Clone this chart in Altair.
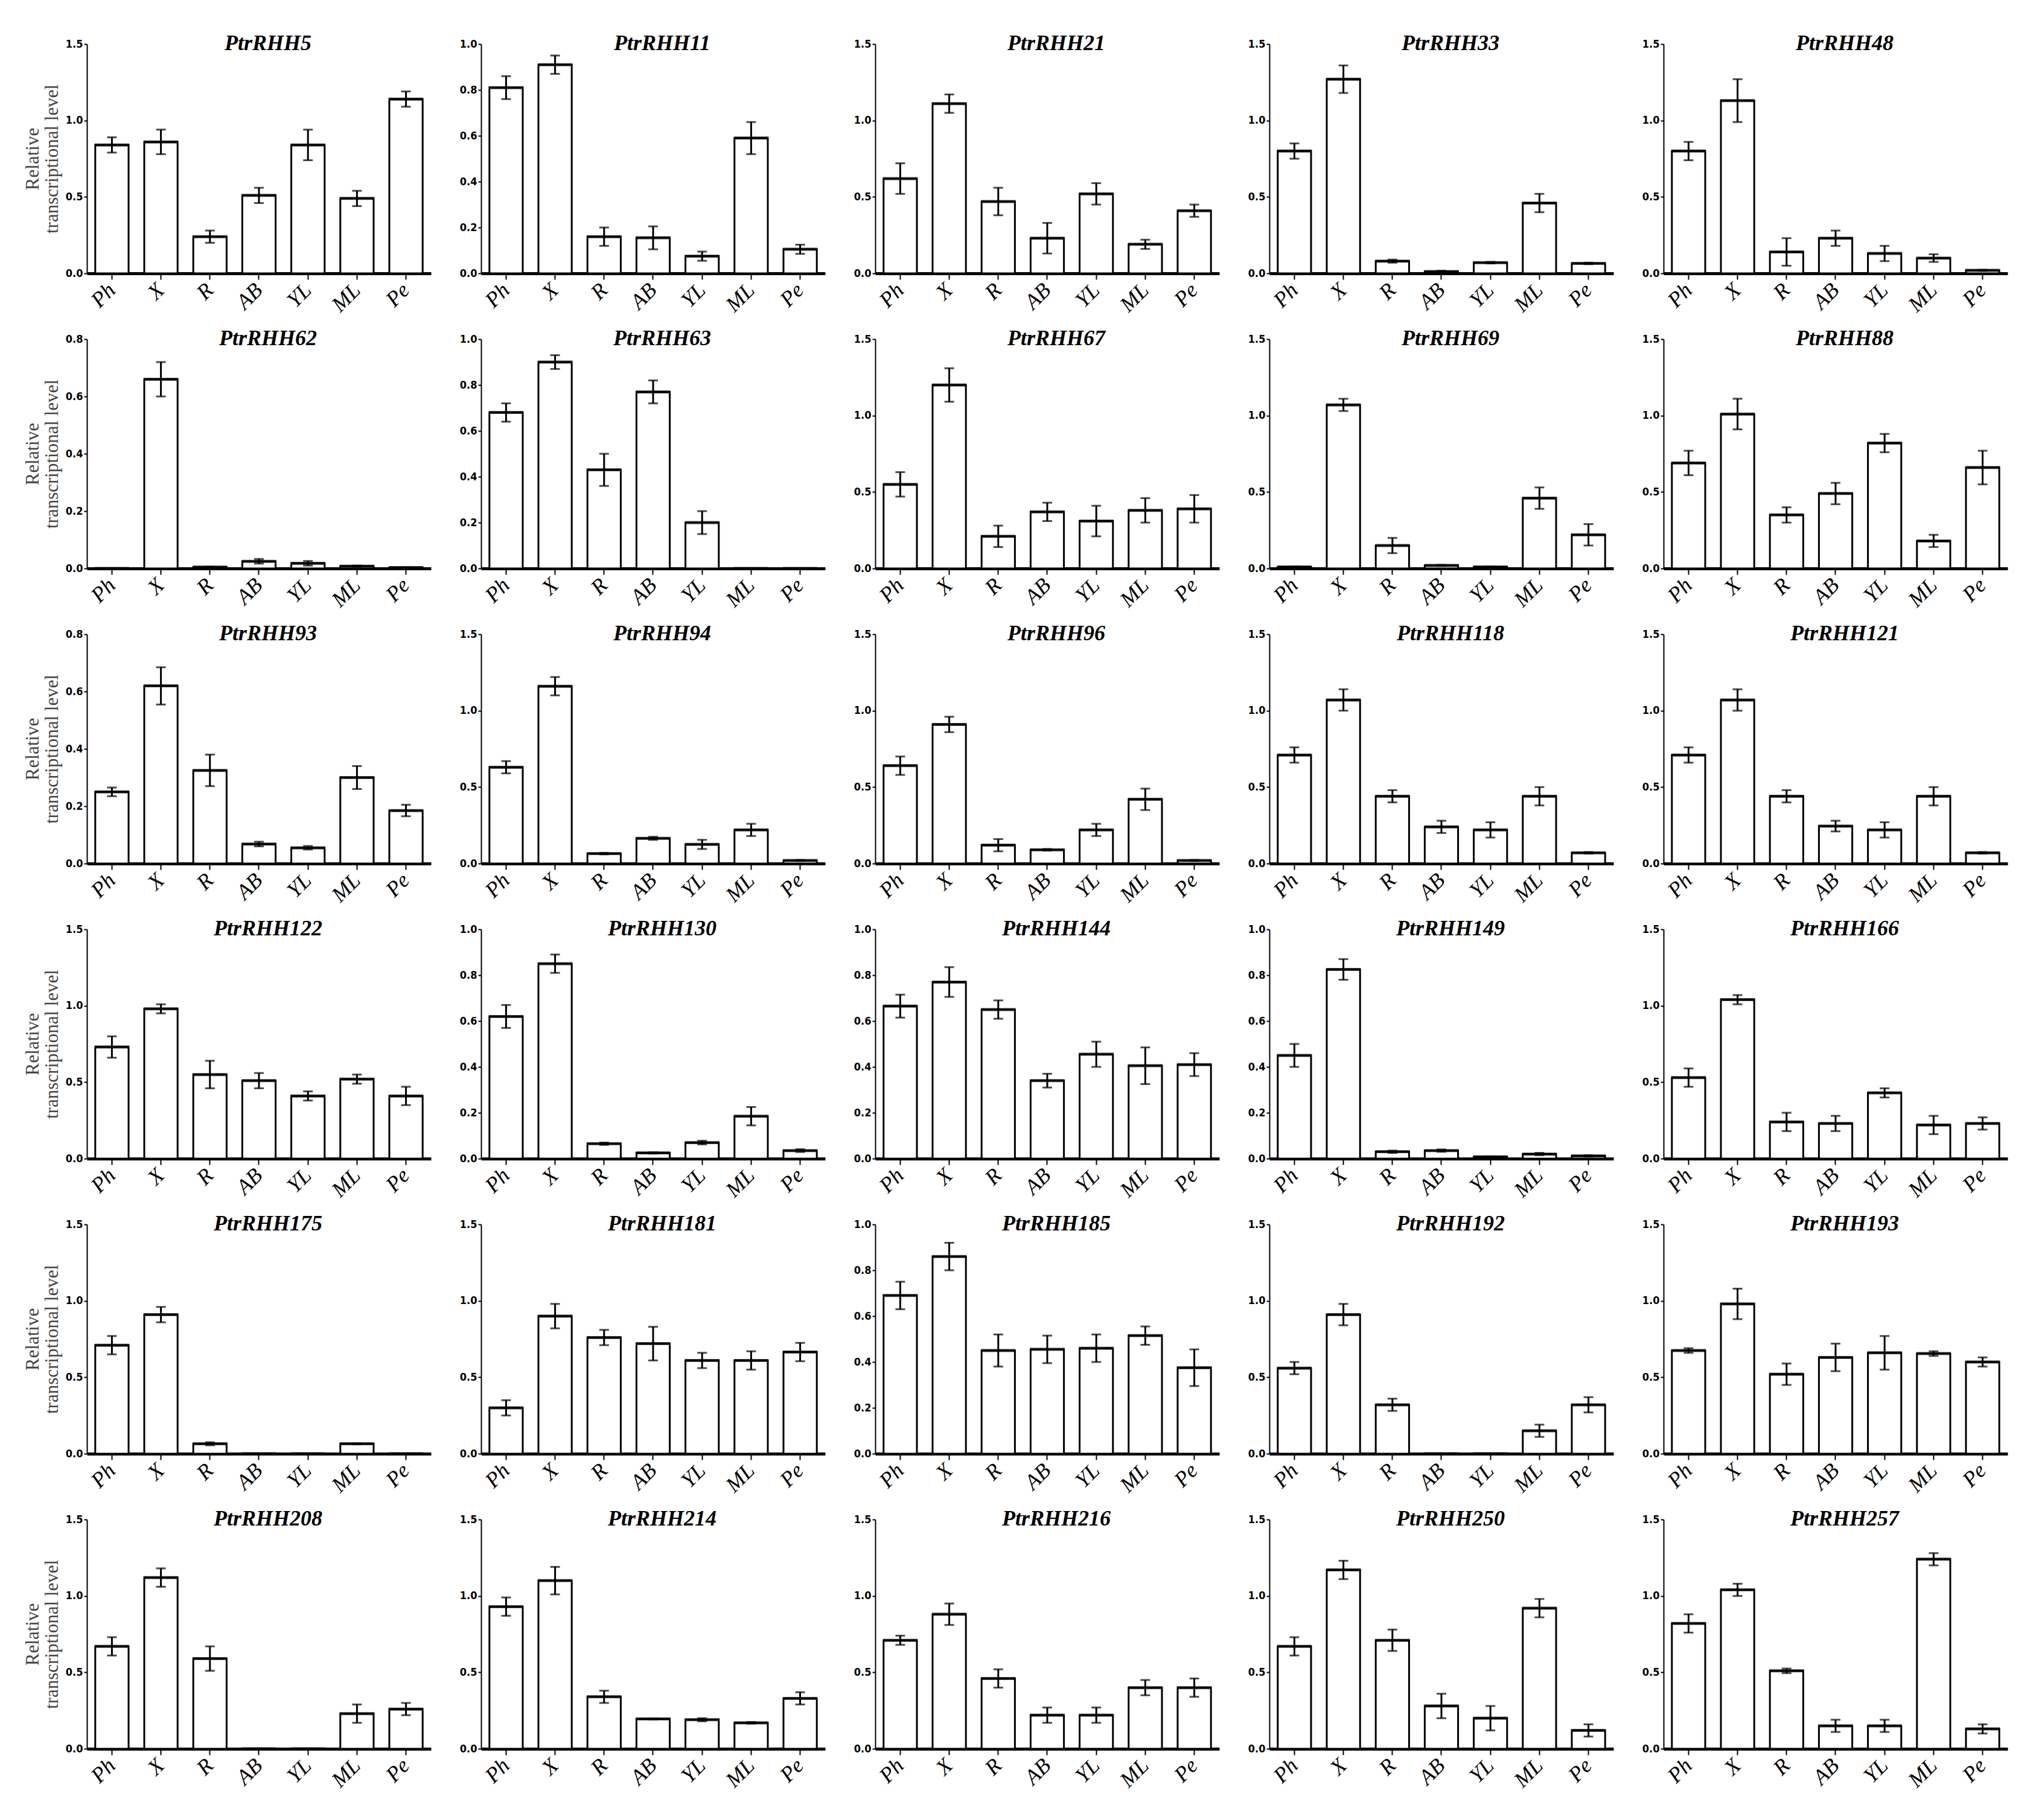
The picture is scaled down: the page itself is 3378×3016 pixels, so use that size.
import altair as alt
import pandas as pd

CATEGORIES = ["Ph", "X", "R", "AB", "YL", "ML", "Pe"]

GENES = [
    "PtrRHH5", "PtrRHH11", "PtrRHH21", "PtrRHH33", "PtrRHH48",
    "PtrRHH62", "PtrRHH63", "PtrRHH67", "PtrRHH69", "PtrRHH88",
    "PtrRHH93", "PtrRHH94", "PtrRHH96", "PtrRHH118", "PtrRHH121",
    "PtrRHH122", "PtrRHH130", "PtrRHH144", "PtrRHH149", "PtrRHH166",
    "PtrRHH175", "PtrRHH181", "PtrRHH185", "PtrRHH192", "PtrRHH193",
    "PtrRHH208", "PtrRHH214", "PtrRHH216", "PtrRHH250", "PtrRHH257",
]

Y_MAX = [
    1.5, 1.0, 1.5, 1.5, 1.5,
    0.8, 1.0, 1.5, 1.5, 1.5,
    0.8, 1.5, 1.5, 1.5, 1.5,
    1.5, 1.0, 1.0, 1.0, 1.5,
    1.5, 1.5, 1.0, 1.5, 1.5,
    1.5, 1.5, 1.5, 1.5, 1.5,
]

# mean relative transcriptional level, order: Ph, X, R, AB, YL, ML, Pe
MEANS = [
    [0.84, 0.86, 0.24, 0.51, 0.84, 0.49, 1.14],
    [0.81, 0.91, 0.16, 0.155, 0.075, 0.59, 0.105],
    [0.62, 1.11, 0.47, 0.23, 0.52, 0.19, 0.41],
    [0.80, 1.27, 0.08, 0.012, 0.07, 0.46, 0.065],
    [0.80, 1.13, 0.14, 0.23, 0.13, 0.10, 0.02],
    [0.0, 0.66, 0.005, 0.025, 0.018, 0.008, 0.003],
    [0.68, 0.90, 0.43, 0.77, 0.20, 0.0, 0.0],
    [0.55, 1.20, 0.21, 0.37, 0.31, 0.38, 0.39],
    [0.01, 1.07, 0.15, 0.02, 0.01, 0.46, 0.22],
    [0.69, 1.01, 0.35, 0.49, 0.82, 0.18, 0.66],
    [0.25, 0.62, 0.325, 0.068, 0.055, 0.30, 0.185],
    [0.63, 1.16, 0.065, 0.165, 0.125, 0.22, 0.02],
    [0.64, 0.91, 0.12, 0.09, 0.22, 0.42, 0.02],
    [0.71, 1.07, 0.44, 0.24, 0.22, 0.44, 0.07],
    [0.71, 1.07, 0.44, 0.245, 0.22, 0.44, 0.07],
    [0.73, 0.98, 0.55, 0.51, 0.41, 0.52, 0.41],
    [0.62, 0.85, 0.065, 0.025, 0.07, 0.185, 0.035],
    [0.665, 0.77, 0.65, 0.34, 0.455, 0.405, 0.41],
    [0.45, 0.825, 0.03, 0.035, 0.008, 0.02, 0.012],
    [0.53, 1.04, 0.24, 0.23, 0.43, 0.22, 0.23],
    [0.71, 0.91, 0.065, 0.0, 0.0, 0.065, 0.0],
    [0.30, 0.90, 0.76, 0.72, 0.61, 0.61, 0.665],
    [0.69, 0.86, 0.45, 0.455, 0.46, 0.515, 0.375],
    [0.56, 0.91, 0.32, 0.0, 0.0, 0.15, 0.32],
    [0.675, 0.98, 0.52, 0.63, 0.66, 0.655, 0.60],
    [0.67, 1.12, 0.59, 0.0, 0.0, 0.23, 0.26],
    [0.93, 1.10, 0.34, 0.195, 0.19, 0.17, 0.33],
    [0.71, 0.88, 0.46, 0.22, 0.22, 0.40, 0.40],
    [0.67, 1.17, 0.71, 0.28, 0.20, 0.92, 0.12],
    [0.82, 1.04, 0.51, 0.15, 0.15, 1.24, 0.13],
]

# standard error (half height of the error bar)
ERRORS = [
    [0.05, 0.08, 0.04, 0.05, 0.10, 0.05, 0.05],
    [0.05, 0.04, 0.04, 0.05, 0.02, 0.07, 0.02],
    [0.10, 0.06, 0.09, 0.10, 0.07, 0.03, 0.04],
    [0.05, 0.09, 0.01, 0.005, 0.005, 0.06, 0.005],
    [0.06, 0.14, 0.09, 0.05, 0.05, 0.025, 0.003],
    [0.0, 0.06, 0.001, 0.008, 0.008, 0.002, 0.001],
    [0.04, 0.03, 0.07, 0.05, 0.05, 0.0, 0.0],
    [0.08, 0.11, 0.07, 0.06, 0.10, 0.08, 0.09],
    [0.002, 0.04, 0.05, 0.003, 0.002, 0.07, 0.07],
    [0.08, 0.10, 0.05, 0.07, 0.06, 0.04, 0.11],
    [0.015, 0.065, 0.055, 0.008, 0.006, 0.04, 0.02],
    [0.04, 0.06, 0.005, 0.01, 0.03, 0.04, 0.003],
    [0.06, 0.05, 0.04, 0.005, 0.04, 0.07, 0.003],
    [0.05, 0.07, 0.04, 0.04, 0.05, 0.06, 0.005],
    [0.05, 0.07, 0.04, 0.035, 0.05, 0.06, 0.005],
    [0.07, 0.03, 0.09, 0.05, 0.03, 0.03, 0.06],
    [0.05, 0.04, 0.005, 0.003, 0.008, 0.04, 0.006],
    [0.05, 0.065, 0.04, 0.03, 0.055, 0.08, 0.05],
    [0.05, 0.045, 0.005, 0.005, 0.001, 0.005, 0.003],
    [0.06, 0.03, 0.06, 0.05, 0.03, 0.06, 0.04],
    [0.06, 0.05, 0.01, 0.0, 0.0, 0.003, 0.0],
    [0.05, 0.08, 0.05, 0.11, 0.05, 0.06, 0.06],
    [0.06, 0.06, 0.07, 0.06, 0.06, 0.04, 0.08],
    [0.04, 0.07, 0.04, 0.0, 0.0, 0.04, 0.05],
    [0.015, 0.10, 0.07, 0.09, 0.11, 0.015, 0.03],
    [0.06, 0.06, 0.08, 0.0, 0.0, 0.06, 0.04],
    [0.06, 0.09, 0.04, 0.003, 0.01, 0.005, 0.04],
    [0.03, 0.07, 0.06, 0.05, 0.05, 0.05, 0.06],
    [0.06, 0.06, 0.07, 0.08, 0.08, 0.06, 0.04],
    [0.06, 0.04, 0.015, 0.04, 0.04, 0.04, 0.03],
]

Y_TITLE = ["Relative", "transcriptional level"]

W, H = 570, 380
SERIF = "Liberation Serif, Times New Roman, serif"
SANS = "Liberation Sans Narrow, DejaVu Sans Condensed, Liberation Sans, sans-serif"


def panel(i, first):
    df = pd.DataFrame({"tissue": CATEGORIES, "mean": MEANS[i], "err": ERRORS[i]})
    df["lo"] = df["mean"] - df["err"]
    df["hi"] = df["mean"] + df["err"]
    ymax = Y_MAX[i]
    step = 0.5 if ymax == 1.5 else 0.2
    ticks = [round(k * step, 1) for k in range(int(round(ymax / step)) + 1)]

    xenc = alt.X(
        "tissue:N",
        sort=CATEGORIES,
        scale=alt.Scale(paddingInner=0.32, paddingOuter=0.17),
        axis=alt.Axis(title=None),
    )
    yaxis = alt.Axis(values=ticks, format=".1f", title=Y_TITLE if first else None)
    yscale = alt.Scale(domain=[0, ymax], nice=False)

    base = alt.Chart(df)
    bars = base.mark_bar(fill="white", stroke="black", strokeWidth=3).encode(
        x=xenc, y=alt.Y("mean:Q", scale=yscale, axis=yaxis)
    )
    top_edge = base.mark_tick(color="black", thickness=5, size=57).encode(
        x=xenc, y=alt.Y("mean:Q", scale=yscale, axis=yaxis)
    )
    err_df = df[df["err"] > 0]
    eb = alt.Chart(err_df)
    stem = eb.mark_rule(color="black", strokeWidth=3).encode(
        x=xenc, y=alt.Y("lo:Q", scale=yscale, axis=yaxis), y2="hi:Q"
    )
    cap_lo = eb.mark_tick(color="black", thickness=3, size=16).encode(
        x=xenc, y=alt.Y("lo:Q", scale=yscale, axis=yaxis)
    )
    cap_hi = eb.mark_tick(color="black", thickness=3, size=16).encode(
        x=xenc, y=alt.Y("hi:Q", scale=yscale, axis=yaxis)
    )
    return alt.layer(bars, top_edge, stem, cap_lo, cap_hi).properties(
        width=W, height=H, title=GENES[i]
    )


rows = []
for r in range(6):
    rows.append(alt.hconcat(*[panel(r * 5 + c, c == 0) for c in range(5)], spacing=47))

chart = (
    alt.vconcat(*rows, spacing=19)
    .properties(padding={"left": 30, "top": 46, "right": 10, "bottom": 10}, background="white")
    .configure_view(stroke=None)
    .configure_title(
        font=SERIF,
        fontSize=36,
        fontStyle="italic",
        fontWeight="bold",
        color="black",
        anchor="middle",
        frame="group",
        baseline="middle",
        offset=-27,
        dx=15,
    )
    .configure_axis(grid=False, domainColor="black", tickColor="black", labelColor="black")
    .configure_axisX(
        domainWidth=5,
        tickWidth=2,
        tickSize=10,
        labelAngle=-45,
        labelAlign="right",
        labelBaseline="middle",
        labelFont=SERIF,
        labelFontStyle="italic",
        labelFontSize=36,
        labelPadding=12,
    )
    .configure_axisY(
        domainWidth=2,
        tickWidth=2,
        tickSize=5,
        labelFont=SANS,
        labelFontSize=18,
        labelFontWeight="bold",
        labelPadding=2,
        titleFont=SERIF,
        titleFontSize=31,
        titleFontWeight="normal",
        titleColor="#444444",
        titlePadding=6,
        titleLineHeight=32,
    )
)

chart.save("out.html", embed_options={"renderer": "svg", "actions": False})
